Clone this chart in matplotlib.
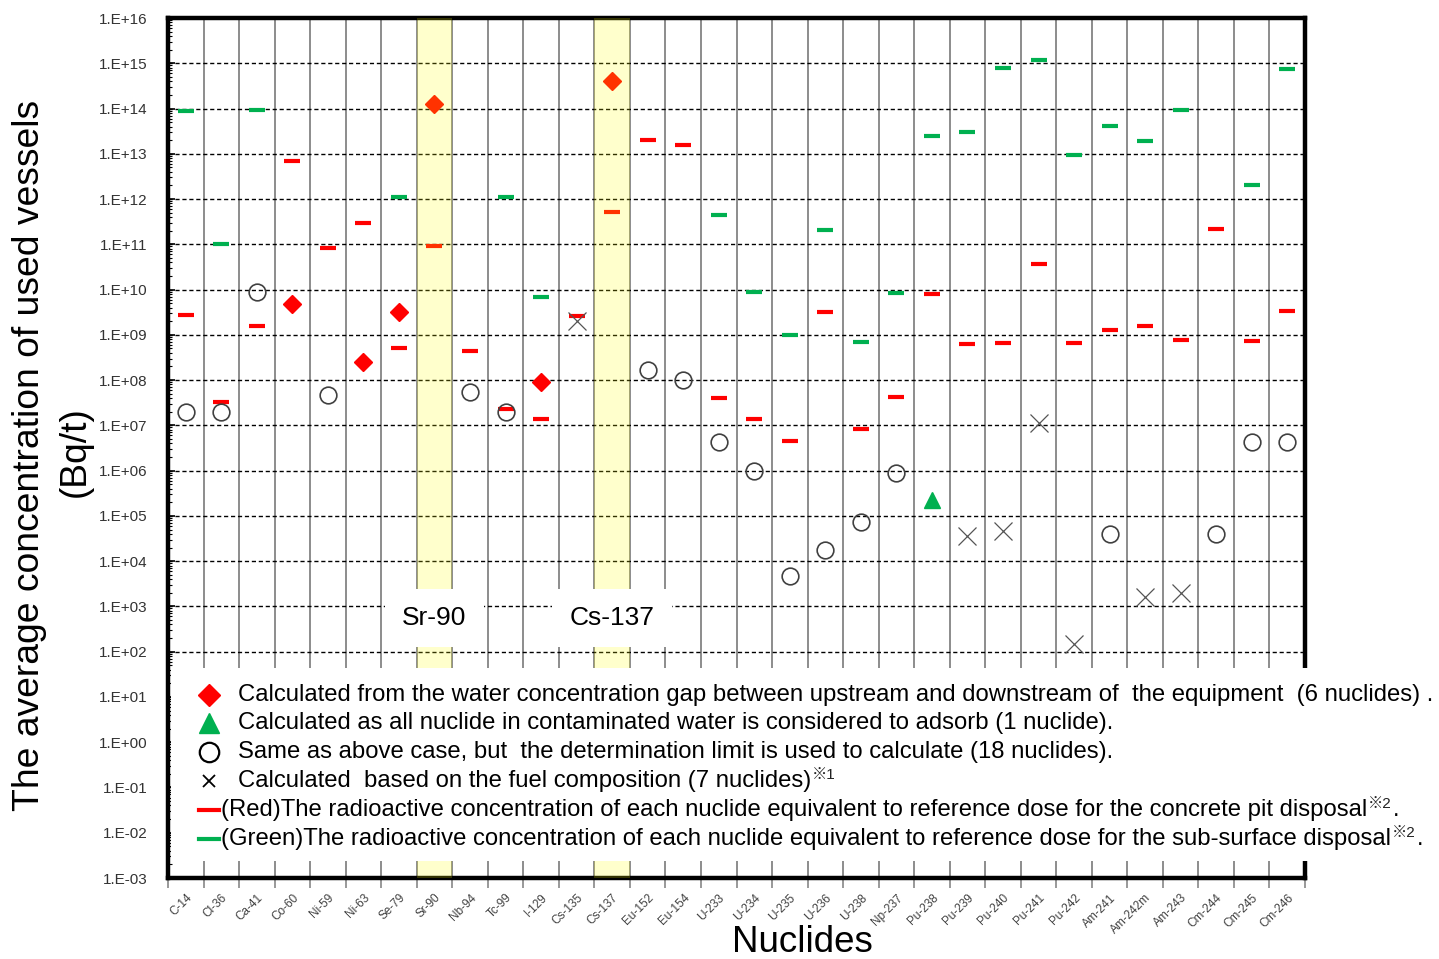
import numpy as np
import matplotlib
matplotlib.use("Agg")
import matplotlib.pyplot as plt
from matplotlib.ticker import FixedLocator, LogLocator, NullFormatter

plt.rcParams["font.family"] = ["Liberation Sans", "DejaVu Sans"]

W, H = 1439, 959

# ----------------------------
# Data
# ----------------------------
nuclides = ["C-14", "Cl-36", "Ca-41", "Co-60", "Ni-59", "Ni-63", "Se-79", "Sr-90",
            "Nb-94", "Tc-99", "I-129", "Cs-135", "Cs-137", "Eu-152", "Eu-154",
            "U-233", "U-234", "U-235", "U-236", "U-238", "Np-237", "Pu-238",
            "Pu-239", "Pu-240", "Pu-241", "Pu-242", "Am-241", "Am-242m", "Am-243",
            "Cm-244", "Cm-245", "Cm-246"]

# concrete pit disposal reference (red dashes)
red_nuclides = nuclides
red_values = [2.75e9, 3.3e7, 1.55e9, 6.8e12, 8.1e10, 3.0e11, 5.2e8, 9.1e10,
              4.5e8, 2.3e7, 1.4e7, 2.6e9, 5.2e11, 2.0e13, 1.55e13,
              4.1e7, 1.4e7, 4.5e6, 3.2e9, 8.5e6, 4.3e7, 7.9e9,
              6.3e8, 6.6e8, 3.6e10, 6.6e8, 1.3e9, 1.55e9, 7.8e8,
              2.2e11, 7.2e8, 3.4e9]

# sub-surface disposal reference (green dashes)
green_nuclides = ["C-14", "Cl-36", "Ca-41", "Se-79", "Tc-99", "I-129", "U-233",
                  "U-234", "U-235", "U-236", "U-238", "Np-237", "Pu-238", "Pu-239",
                  "Pu-240", "Pu-241", "Pu-242", "Am-241", "Am-242m", "Am-243",
                  "Cm-245", "Cm-246"]
green_values = [8.7e13, 1.0e11, 9.1e13, 1.1e12, 1.1e12, 6.8e9, 4.5e11,
                8.9e9, 9.8e8, 2.1e11, 6.9e8, 8.3e9, 2.5e13, 3.0e13,
                7.8e14, 1.2e15, 9.3e12, 4.1e13, 1.9e13, 9.5e13,
                2.0e12, 7.4e14]

# water concentration gap (red diamonds)
gap_nuclides = ["Co-60", "Ni-63", "Se-79", "Sr-90", "I-129", "Cs-137"]
gap_values = [4.7e9, 2.5e8, 3.2e9, 1.26e14, 9.1e7, 4.1e14]

# all nuclide adsorbed (green triangle)
adsorb_nuclides = ["Pu-238"]
adsorb_values = [2.2e5]

# determination limit (open circles)
limit_nuclides = ["C-14", "Cl-36", "Ca-41", "Ni-59", "Nb-94", "Tc-99", "Eu-152",
                  "Eu-154", "U-233", "U-234", "U-235", "U-236", "U-238", "Np-237",
                  "Am-241", "Cm-244", "Cm-245", "Cm-246"]
limit_values = [2.0e7, 2.0e7, 8.7e9, 4.6e7, 5.6e7, 2.0e7, 1.7e8,
                1.0e8, 4.3e6, 1.0e6, 4.6e3, 1.8e4, 7.4e4, 8.9e5,
                4.0e4, 4.0e4, 4.4e6, 4.4e6]

# fuel composition (crosses)
fuel_nuclides = ["Cs-135", "Pu-239", "Pu-240", "Pu-241", "Pu-242", "Am-242m", "Am-243"]
fuel_values = [2.0e9, 3.6e4, 4.6e4, 1.15e7, 1.5e2, 1.6e3, 2.0e3]

highlight = ["Sr-90", "Cs-137"]
label_level = 10 ** 2.74


def pos(names):
    return [nuclides.index(n) for n in names]


# ----------------------------
# Figure
# ----------------------------
fig = plt.figure(figsize=(W / 100, H / 100), dpi=100)
ax = fig.add_axes([168 / W, 1 - 878 / H, (1305 - 168) / W, (878 - 18) / H])

ax.set_yscale("log")
ax.set_ylim(1e-3, 1e16)
ax.set_xlim(-0.5, len(nuclides) - 0.5)

decades = np.arange(-3, 17)
ax.yaxis.set_major_locator(FixedLocator(10.0 ** decades))
ax.set_yticklabels([f"1.E{d:+03d}" for d in decades], fontsize=11, color="#333333")
ax.yaxis.set_minor_locator(LogLocator(base=10, subs=np.arange(2, 10), numticks=40))
ax.yaxis.set_minor_formatter(NullFormatter())
ax.tick_params(axis="y", which="major", direction="in", length=5, width=1.2, pad=15)
ax.tick_params(axis="y", which="minor", direction="in", length=3, width=0.8)

ax.set_xticks(np.arange(len(nuclides)))
ax.set_xticklabels(nuclides, rotation=45, ha="right", va="top",
                   rotation_mode="anchor", fontsize=8.5, color="#404040")
ax.tick_params(axis="x", which="major", length=0, pad=10)
ax.set_xticks(np.arange(-0.5, len(nuclides)), minor=True)
ax.tick_params(axis="x", which="minor", direction="out", length=7, color="#888888", width=1.2)

ax.grid(axis="x", which="minor", color="#8c8c8c", lw=1.4, zorder=1)
ax.grid(axis="y", which="major", color="black", lw=1.0, ls=(0, (3, 2)), zorder=1)
ax.set_axisbelow(True)

for s in ax.spines.values():
    s.set_linewidth(3.2)

# reference dashes
ax.plot(pos(red_nuclides), red_values, ls="none", marker="_", ms=12, mew=3,
        color="#ff0000", zorder=3)
ax.plot(pos(green_nuclides), green_values, ls="none", marker="_", ms=12, mew=3,
        color="#00b050", zorder=3)

# evaluated concentrations
ax.plot(pos(gap_nuclides), gap_values, ls="none", marker="D", ms=9.5,
        color="#ff0000", zorder=4)
ax.plot(pos(adsorb_nuclides), adsorb_values, ls="none", marker="^", ms=12,
        color="#00b050", zorder=4)
ax.plot(pos(limit_nuclides), limit_values, ls="none", marker="o", ms=12,
        mfc="none", mec="#404040", mew=1.2, zorder=4)
ax.plot(pos(fuel_nuclides), fuel_values, ls="none", marker="x", ms=13,
        mew=0.9, color="#555555", zorder=4)

# highlighted columns
for n in highlight:
    i = nuclides.index(n)
    ax.axvspan(i - 0.5, i + 0.5, color="#ffff00", alpha=0.2, lw=0, zorder=5)
    ax.text(i, label_level, n, fontsize=19, ha="center", va="center", zorder=6,
            bbox=dict(boxstyle="square,pad=0.65", fc="white", ec="none"))

# axis labels
fig.text(30 / W, 1 - 455 / H, "The average concentration of used vessels",
         rotation=90, ha="center", va="center", fontsize=26.8)
fig.text(75 / W, 1 - 452 / H, "(Bq/t)", rotation=90, ha="center", va="center",
         fontsize=26.8)
fig.text(802 / W, 1 - 942 / H, "Nuclides", ha="center", va="center", fontsize=26.5)

# ----------------------------
# Legend box (pixel coordinates)
# ----------------------------
lx0, lx1, ly0, ly1 = 171, 1439, 668, 861
leg = fig.add_axes([lx0 / W, 1 - ly1 / H, (lx1 - lx0) / W, (ly1 - ly0) / H], zorder=10)
leg.set_xlim(lx0, lx1)
leg.set_ylim(ly1, ly0)
leg.set_xticks([])
leg.set_yticks([])
leg.set_facecolor("white")
for s in leg.spines.values():
    s.set_visible(False)

fs = 17.2
rows_y = [695, 723, 752, 781, 810, 839]
leg.plot([209], [rows_y[0]], marker="D", ms=11, color="#ff0000", ls="none")
leg.plot([209], [rows_y[1]], marker="^", ms=14, color="#00b050", ls="none")
leg.plot([209], [rows_y[2]], marker="o", ms=14, mfc="none", mec="black", mew=1.6, ls="none")
leg.plot([209], [rows_y[3]], marker="x", ms=9, mew=1.3, color="black", ls="none")
leg.plot([199, 219], [rows_y[4]] * 2, color="#ff0000", lw=3)
leg.plot([199, 219], [rows_y[5]] * 2, color="#00b050", lw=3)

texts = [
    (238, "Calculated from the water concentration gap between upstream and downstream of  the equipment  (6 nuclides) .", None, ""),
    (238, "Calculated as all nuclide in contaminated water is considered to adsorb (1 nuclide).", None, ""),
    (238, "Same as above case, but  the determination limit is used to calculate (18 nuclides).", None, ""),
    (238, "Calculated  based on the fuel composition (7 nuclides)", "※1", ""),
    (221, "(Red)The radioactive concentration of each nuclide equivalent to reference dose for the concrete pit disposal", "※2", "."),
    (221, "(Green)The radioactive concentration of each nuclide equivalent to reference dose for the sub-surface disposal", "※2", "."),
]
fig.canvas.draw()
renderer = fig.canvas.get_renderer()
for (x, txt, sup, tail), y in zip(texts, rows_y):
    t = leg.text(x, y, txt, fontsize=fs, ha="left", va="center")
    if sup:
        bb = t.get_window_extent(renderer)
        xe = bb.x1
        st = leg.text(xe + 1, y - 6, sup, fontsize=11, ha="left", va="center",
                      family=["Liberation Sans", "Noto Sans CJK JP"], color="#222222")
        if tail:
            sb = st.get_window_extent(renderer)
            leg.text(sb.x1 + 1, y, tail, fontsize=fs, ha="left", va="center")

fig.savefig("out.png", dpi=100)
